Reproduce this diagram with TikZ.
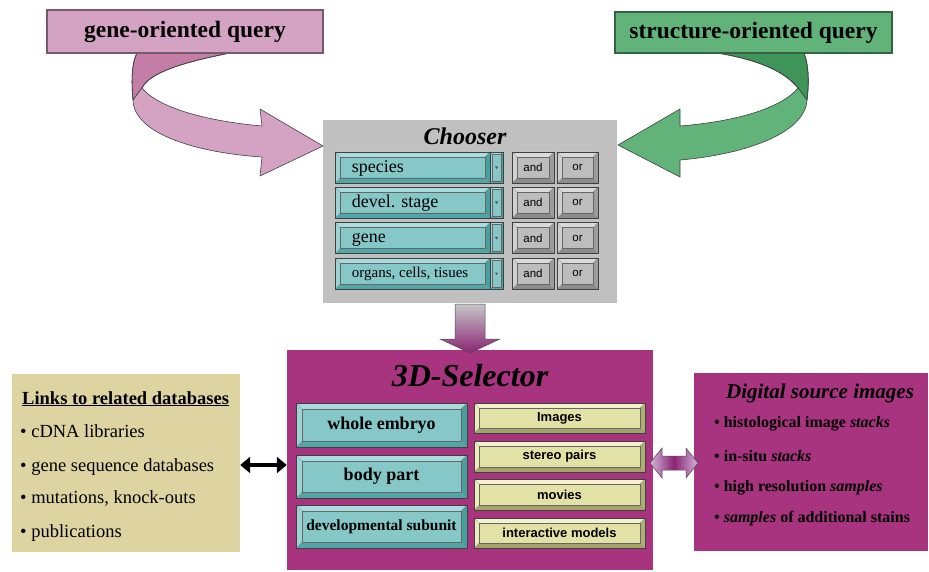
\documentclass[tikz,border=0pt]{standalone}
\usepackage{fontspec}
\setmainfont{Liberation Serif}
\setsansfont{Liberation Sans}
\usetikzlibrary{arrows.meta}
\definecolor{pinkL}{HTML}{D4A3C4}
\definecolor{pinkD}{HTML}{C47DA7}
\definecolor{greenL}{HTML}{62B37A}
\definecolor{greenD}{HTML}{3F9459}
\definecolor{chgray}{HTML}{C0C0C0}
\definecolor{selpurple}{HTML}{A8337E}
\definecolor{tanbg}{HTML}{DED4A2}
\definecolor{tealF}{HTML}{86C7C8}
\definecolor{tealT}{HTML}{A9DCDC}
\definecolor{tealB}{HTML}{4FA7A7}
\definecolor{tealL}{HTML}{9FD3D3}
\definecolor{tealR}{HTML}{4A9E9E}
\definecolor{grayF}{HTML}{BDBDBD}
\definecolor{grayT}{HTML}{DADADA}
\definecolor{grayB}{HTML}{8C8C8C}
\definecolor{grayL}{HTML}{D0D0D0}
\definecolor{grayR}{HTML}{9C9C9C}
\definecolor{yelF}{HTML}{E2E2A6}
\definecolor{yelT}{HTML}{F2F2CC}
\definecolor{yelB}{HTML}{A4A468}
\definecolor{yelL}{HTML}{ECECBC}
\definecolor{yelR}{HTML}{B0B074}
\definecolor{lav}{HTML}{D2B4DA}
\definecolor{deeppurple}{HTML}{8A2474}
\newcommand\myfs[1]{\fontsize{#1}{#1}\selectfont}
\tikzset{
  bw/.store in=\bvw, bw=4pt,
  bevel/.style n args={5}{fill=#1, draw=black!75, line width=0.5pt, inner sep=0pt,
    path picture={
      \fill[#2] (path picture bounding box.north west) -- (path picture bounding box.north east)
        -- ([shift={(-\bvw,-\bvw)}]path picture bounding box.north east)
        -- ([shift={(\bvw,-\bvw)}]path picture bounding box.north west) -- cycle;
      \fill[#3] (path picture bounding box.south west) -- (path picture bounding box.south east)
        -- ([shift={(-\bvw,\bvw)}]path picture bounding box.south east)
        -- ([shift={(\bvw,\bvw)}]path picture bounding box.south west) -- cycle;
      \fill[#4] (path picture bounding box.north west) -- ([shift={(\bvw,-\bvw)}]path picture bounding box.north west)
        -- ([shift={(\bvw,\bvw)}]path picture bounding box.south west) -- (path picture bounding box.south west) -- cycle;
      \fill[#5] (path picture bounding box.north east) -- ([shift={(-\bvw,-\bvw)}]path picture bounding box.north east)
        -- ([shift={(-\bvw,\bvw)}]path picture bounding box.south east) -- (path picture bounding box.south east) -- cycle;
      \draw[black!60, line width=0.4pt] ([shift={(\bvw,-\bvw)}]path picture bounding box.north west)
        rectangle ([shift={(-\bvw,\bvw)}]path picture bounding box.south east);
      \draw[black!45, line width=0.3pt] (path picture bounding box.north west) -- ([shift={(\bvw,-\bvw)}]path picture bounding box.north west)
        (path picture bounding box.north east) -- ([shift={(-\bvw,-\bvw)}]path picture bounding box.north east)
        (path picture bounding box.south west) -- ([shift={(\bvw,\bvw)}]path picture bounding box.south west)
        (path picture bounding box.south east) -- ([shift={(-\bvw,\bvw)}]path picture bounding box.south east);
    }},
  tealbev/.style={bevel={tealF}{tealT}{tealB}{tealL}{tealR}},
  graybev/.style={bevel={grayF}{grayT}{grayB}{grayL}{grayR}},
  yelbev/.style={bevel={yelF}{yelT}{yelB}{yelL}{yelR}},
  qbox/.style={draw=black!85, line width=0.6pt, double distance=1.6pt, inner sep=0pt},
  panel/.style={inner sep=0pt},
  ribbon/.style={draw=black!75, line width=0.6pt, line join=round},
  txt/.style={inner sep=0pt, anchor=base west}
}
\begin{document}
\begin{tikzpicture}[x=1pt,y=-1pt]
\useasboundingbox (0,0) rectangle (929,572);

% ---- curved arrows ----
\fill[ribbon, fill=pinkD] (137,53) -- (230,53) .. controls (185,62) and (150,72) .. (142,88)
  -- (133,100) .. controls (131,80) and (132,62) .. (137,53) -- cycle;
\draw[ribbon, fill=pinkL] (142,88) .. controls (160,110) and (215,122) .. (262,126) -- (260,109)
  -- (323,146) -- (260,176) -- (262,157) .. controls (200,153) and (134,135) .. (133,100) -- cycle;
\draw[ribbon] (137,53) -- (230,53) .. controls (185,62) and (150,72) .. (142,88);
\draw[ribbon] (133,100) .. controls (131,80) and (132,62) .. (137,53);

\fill[ribbon, fill=greenD] (717,53) -- (804,53) .. controls (809,65) and (809,85) .. (807,100)
  -- (798,88) .. controls (785,72) and (760,60) .. (717,53) -- cycle;
\draw[ribbon, fill=greenL] (798,88) .. controls (780,110) and (730,122) .. (680,126) -- (680,109)
  -- (618,145) -- (680,177) -- (680,160) .. controls (740,155) and (805,135) .. (807,100) -- cycle;
\draw[ribbon] (717,53) .. controls (760,60) and (785,72) .. (798,88);
\draw[ribbon] (804,53) .. controls (809,65) and (809,85) .. (807,100);

% ---- query boxes ----
\node[qbox, fill=pinkL, double=pinkL!55!black, minimum width=276pt, minimum height=43pt]
  (gq) at (185,31.5) {\myfs{23.5}\bfseries gene-oriented query};
\node[qbox, fill=greenL, double=greenL!55!black, minimum width=277pt, minimum height=41pt]
  (sq) at (753.5,32.5) {\myfs{23.5}\bfseries structure-oriented query};

% ---- Chooser ----
\node[panel, fill=chgray, minimum width=294pt, minimum height=183pt] (ch) at (470,211.5) {};
\node[inner sep=0pt] (cht) at (465,136) {\myfs{24}\bfseries\itshape Chooser};
\foreach \i/\y/\f/\b/\t in {1/167.5/18/5/species, 2/202.5/18/5/{devel. stage}, 3/238/18/5/gene, 4/273.5/15/4/{organs, cells, tisues}}{
  \node[tealbev, bw=5pt, minimum width=155pt, minimum height=31pt] (dd\i) at (412.5,\y) {};
  \node[txt] (ddt\i) at ([xshift=17pt,yshift=-\b pt]dd\i.west) {\myfs{\f}\t};
  \node[tealbev, bw=2pt, minimum width=13pt, minimum height=31pt] (ddb\i) at (496.5,\y) {};
  \fill[black!70] ([shift={(-1.5pt,1pt)}]ddb\i.center) -- ++(3pt,0pt) -- ++(-1.5pt,-2.5pt) -- cycle;
  \node[graybev, bw=5pt, minimum width=42pt, minimum height=31pt] (and\i) at (533,\y) {\sffamily\myfs{11.5}and};
  \node[graybev, bw=5pt, minimum width=41pt, minimum height=31pt] (or\i) at (577.5,\y) {\sffamily\myfs{11.5}or};
}

% ---- 3D-Selector ----
\node[panel, fill=selpurple, minimum width=366pt, minimum height=220pt] (sel) at (470,460) {};
\node[inner sep=0pt] (selt) at (470,376) {\myfs{32}\bfseries\itshape 3D-Selector};
\node[tealbev, bw=6pt, minimum width=171pt, minimum height=44pt] (we) at (381.5,425) {\myfs{18}\bfseries whole embryo};
\node[tealbev, bw=6pt, minimum width=171pt, minimum height=43pt] (bp) at (381.5,476.5) {\myfs{18}\bfseries body part};
\node[tealbev, bw=6pt, minimum width=171pt, minimum height=43pt] (ds) at (381.5,526.5) {\myfs{15.5}\bfseries developmental subunit};
\node[yelbev, bw=5pt, minimum width=171pt, minimum height=30pt] (im) at (559.5,418) {\sffamily\bfseries\myfs{13}Images};
\node[yelbev, bw=5pt, minimum width=171pt, minimum height=31pt] (sp) at (559.5,456.5) {\sffamily\bfseries\myfs{13}stereo pairs};
\node[yelbev, bw=5pt, minimum width=171pt, minimum height=31pt] (mv) at (559.5,494.5) {\sffamily\bfseries\myfs{13}movies};
\node[yelbev, bw=5pt, minimum width=171pt, minimum height=30pt] (imd) at (559.5,533) {\sffamily\bfseries\myfs{13}interactive models};

% ---- arrow Chooser -> 3D-Selector ----
\shade[top color=gray!45, bottom color=deeppurple, draw=black!70, line width=0.5pt]
  (455,304) -- (485,304) -- (485,339) -- (500,339) -- (470,353) -- (440,339) -- (455,339) -- cycle;

% ---- Links box ----
\node[panel, fill=tanbg, minimum width=228pt, minimum height=178pt] (links) at (126,463) {};
\node[txt] (lt) at (22,404) {\myfs{18.5}\bfseries\underline{Links to related databases}};
\node[txt] (l1) at (20,437) {\myfs{18.5}• cDNA libraries};
\node[txt] (l2) at (20,471) {\myfs{18.5}• gene sequence databases};
\node[txt] (l3) at (20,503) {\myfs{18.5}• mutations, knock-outs};
\node[txt] (l4) at (20,537) {\myfs{18.5}• publications};

% ---- Digital source images ----
\node[panel, fill=selpurple, minimum width=234pt, minimum height=178pt] (dig) at (811,462) {};
\node[inner sep=0pt] (dt) at (820,393) {\myfs{21}\bfseries\itshape Digital source images};
\node[txt] (d1) at (714,427) {\myfs{16}\bfseries • histological image \textit{stacks}};
\node[txt] (d2) at (714,461) {\myfs{16}\bfseries • in-situ \textit{stacks}};
\node[txt] (d3) at (714,491) {\myfs{16}\bfseries • high resolution \textit{samples}};
\node[txt] (d4) at (714,522) {\myfs{16}\bfseries • \textit{samples} of additional stains};

% ---- double arrows ----
\draw[line width=3.5pt, {Triangle[length=10pt,width=16pt]}-{Triangle[length=10pt,width=16pt]}]
  ([yshift=-2pt]links.east) -- ([yshift=-2pt]links.east -| sel.west);
\shade[left color=lav, right color=lav, middle color=deeppurple, draw=black!70, line width=0.5pt]
  (650,463) -- (662,448) -- (662,456) -- (686,456) -- (686,448) -- (698,463)
  -- (686,478) -- (686,470) -- (662,470) -- (662,478) -- cycle;
\end{tikzpicture}
\end{document}
